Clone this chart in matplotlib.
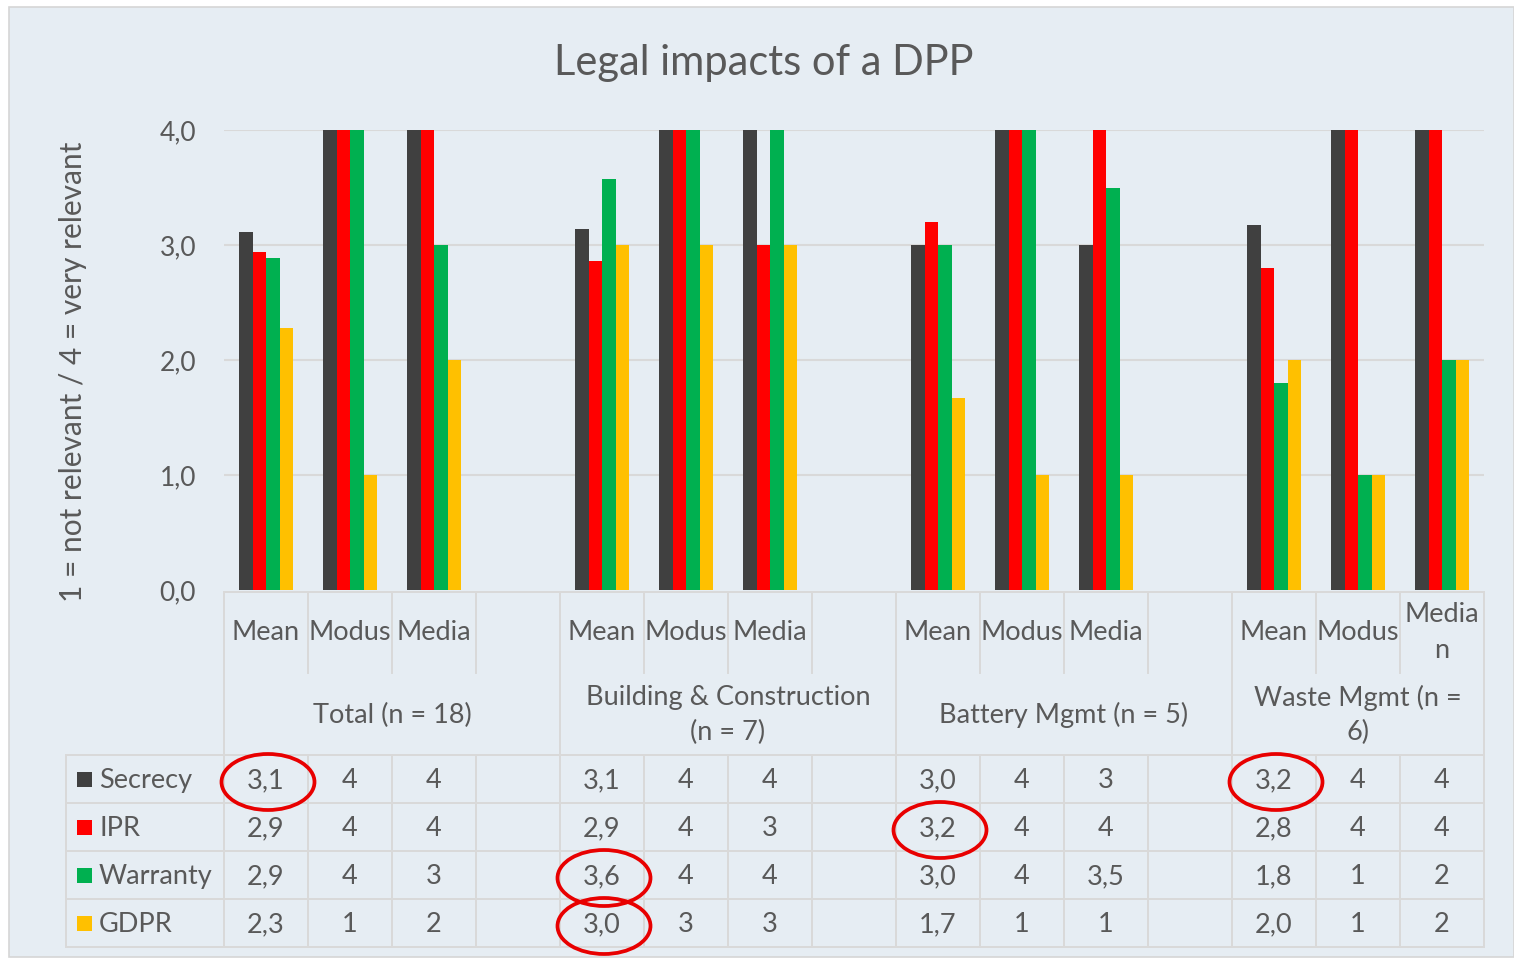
import matplotlib
matplotlib.use("Agg")
import matplotlib.pyplot as plt
from matplotlib.patches import Rectangle, Ellipse
import numpy as np

plt.rcParams['font.family'] = ['Lato', 'DejaVu Sans']

# ---------------- data ----------------
title = "Legal impacts of a DPP"
ylabel = "1 = not relevant / 4 = very relevant"
groups = ["Total (n = 18)", "Building & Construction\n(n = 7)", "Battery Mgmt (n = 5)", "Waste Mgmt (n =\n6)"]
stat_labels = [["Mean", "Modus", "Media"], ["Mean", "Modus", "Media"],
               ["Mean", "Modus", "Media"], ["Mean", "Modus", "Media\nn"]]
series = ["Secrecy", "IPR", "Warranty", "GDPR"]
colors = ["#404040", "#FF0000", "#00B050", "#FFC000"]

# values per series: [group][stat] with stat = Mean, Modus, Median
secrecy  = [[3.11, 4, 4], [3.14, 4, 4], [3.00, 4, 3],   [3.17, 4, 4]]
ipr      = [[2.94, 4, 4], [2.86, 4, 3], [3.20, 4, 4],   [2.80, 4, 4]]
warranty = [[2.89, 4, 3], [3.57, 4, 4], [3.00, 4, 3.5], [1.80, 1, 2]]
gdpr     = [[2.28, 1, 2], [3.00, 3, 3], [1.67, 1, 1],   [2.00, 1, 2]]
values = [secrecy, ipr, warranty, gdpr]

# circled cells: (group, stat, series)
circled = [(0, 0, 0), (1, 0, 2), (1, 0, 3), (2, 0, 1), (3, 0, 0)]

# ---------------- layout ----------------
W, H = 1514, 959
fig = plt.figure(figsize=(W / 100, H / 100), dpi=100)
fig.patch.set_facecolor("white")

TXT = "#595959"
GRID = "#D9D9D9"
X0, SLOT = 224, 84
Y0, Y4 = 590, 130
n_slots = 15
group_start = [0, 4, 8, 12]
group_end = [4, 8, 12, 15]

def fx(x):
    return x / W

def fy(y):
    return 1 - y / H

# background panel
bg = fig.add_axes([0, 0, 1, 1], zorder=0)
bg.set_xlim(0, W); bg.set_ylim(H, 0); bg.axis("off")
bg.add_patch(Rectangle((9, 7), W - 9, 950, facecolor="#E6EDF3", edgecolor="#D6D6D6", lw=1.2))

# main bar axes
ax = fig.add_axes([fx(X0), fy(Y0), (SLOT * n_slots) / W, (Y0 - Y4) / H], zorder=2)
ax.set_facecolor("none")
ax.set_xlim(0, n_slots)
ax.set_ylim(0, 4)
for s in ax.spines.values():
    s.set_visible(False)
ax.set_yticks([0, 1, 2, 3, 4])
ax.set_yticklabels([f"{v:.1f}".replace(".", ",") for v in [0, 1, 2, 3, 4]],
                   fontsize=19, color=TXT)
ax.tick_params(axis="y", length=0, pad=20)
ax.set_xticks([])
for v in [1, 2, 3, 4]:
    ax.axhline(v, color=GRID, lw=1.5, zorder=0)

bw = 13.5 / SLOT
for g in range(4):
    for st in range(3):
        slot = group_start[g] + st
        for i in range(4):
            xc = slot + 0.5 + (i - 1.5) * bw
            ax.bar(xc, values[i][g][st], width=bw, color=colors[i], zorder=3, lw=0)

fig.text(fx(73), fy(372), ylabel, fontsize=21.5, color=TXT, rotation=90,
         ha="center", va="center")

fig.text(fx(764), fy(63), title, fontsize=30, color=TXT, ha="center", va="center")

# table axes
tx = fig.add_axes([0, 0, 1, 1], zorder=3)
tx.set_xlim(0, W); tx.set_ylim(H, 0); tx.axis("off")

def sx(k):
    return X0 + SLOT * k

R_TOP, R_MID, R_DATA = 592, 673, 755
ROW_H = 48
LEFT = 66
lw = 1.4
# horizontal lines
tx.plot([sx(0), sx(n_slots)], [R_TOP, R_TOP], color=GRID, lw=lw)
for r in range(5):
    yy = R_DATA + r * ROW_H
    tx.plot([LEFT, sx(n_slots)], [yy, yy], color=GRID, lw=lw)
# vertical lines
for k in range(n_slots + 1):
    tx.plot([sx(k), sx(k)], [R_TOP, R_MID], color=GRID, lw=lw)
    tx.plot([sx(k), sx(k)], [R_DATA, R_DATA + 4 * ROW_H], color=GRID, lw=lw)
for k in [0, 4, 8, 12, 15]:
    tx.plot([sx(k), sx(k)], [R_MID, R_DATA], color=GRID, lw=lw)
tx.plot([LEFT, LEFT], [R_DATA, R_DATA + 4 * ROW_H], color=GRID, lw=lw)

FS = 19.5
for g in range(4):
    for st in range(3):
        k = group_start[g] + st
        tx.text(sx(k) + SLOT / 2, 633, stat_labels[g][st], ha="center", va="center",
                fontsize=FS, color=TXT, linespacing=1.55)
    xm = (sx(group_start[g]) + sx(group_end[g])) / 2
    tx.text(xm, 715, groups[g], ha="center", va="center", fontsize=FS, color=TXT,
            linespacing=1.45)

def fmt(v, mean):
    if mean:
        return f"{v:.1f}".replace(".", ",")
    if float(v).is_integer():
        return str(int(v))
    return f"{v:.1f}".replace(".", ",")

for i, name in enumerate(series):
    yc = R_DATA + i * ROW_H + ROW_H / 2
    tx.add_patch(Rectangle((77, yc - 7.5), 15, 15, facecolor=colors[i], edgecolor="none"))
    tx.text(99, yc + 1.5, name, ha="left", va="center", fontsize=FS, color=TXT)
    for g in range(4):
        for st in range(3):
            k = group_start[g] + st
            tx.text(sx(k) + SLOT / 2, yc + 2, fmt(values[i][g][st], st == 0),
                    ha="center", va="center", fontsize=FS, color=TXT)

for (g, st, i) in circled:
    k = group_start[g] + st
    xc = sx(k) + SLOT / 2 + 2
    yc = R_DATA + i * ROW_H + ROW_H / 2 + 3
    tx.add_patch(Ellipse((xc, yc), 93, 56, fill=False, edgecolor="#E80000", lw=2.7, zorder=5))

fig.savefig("out.png", dpi=100)
